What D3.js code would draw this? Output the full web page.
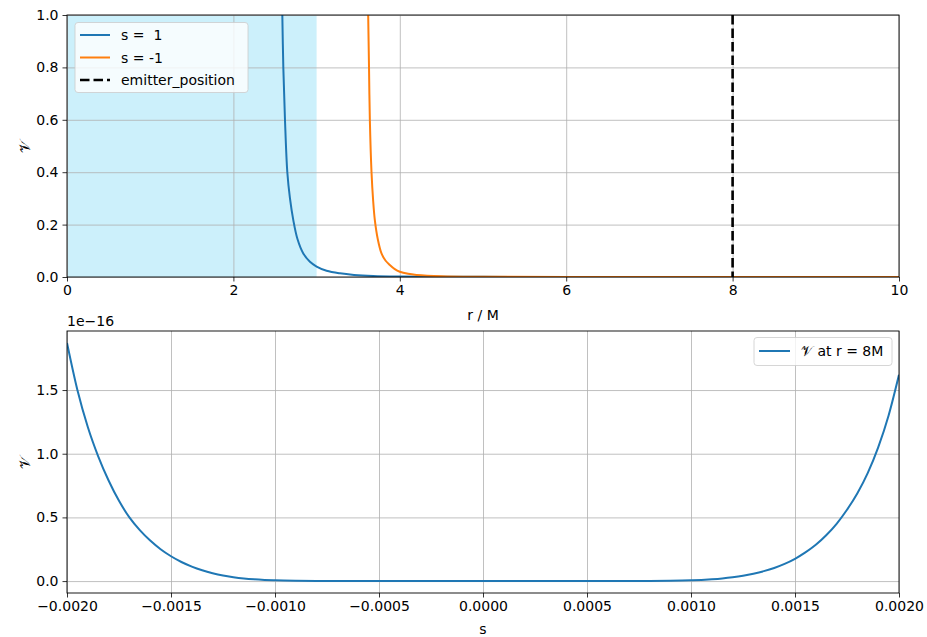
<!DOCTYPE html>
<html>
<head>
<meta charset="utf-8">
<script src="https://cdn.jsdelivr.net/npm/d3@7"></script>
<style>
  html, body { margin: 0; padding: 0; background: #fff; }
  svg { display: block; font-family: "DejaVu Sans", sans-serif; }
  text { white-space: pre; }
</style>
</head>
<body>
<svg id="fig" width="927" height="637"></svg>
<script>
// ---- top panel: potential vs radius for both signs of s ----
const rTicks = [0, 2, 4, 6, 8, 10];
const vTicks = [0.0, 0.2, 0.4, 0.6, 0.8, 1.0];
const rPlus  = [2.575, 2.588, 2.60, 2.62, 2.648, 2.68, 2.72, 2.77, 2.84, 2.92, 3.0, 3.12, 3.28, 3.45, 3.68, 4.0, 4.5, 5.0, 6.0, 8.0, 10.0];
const vPlus  = [1.2, 1.0, 0.80, 0.60, 0.40, 0.30, 0.217, 0.145, 0.09, 0.058, 0.04, 0.024, 0.014, 0.008, 0.004, 0.002, 0.001, 0.0005, 0.0002, 0.00005, 0.00002];
const rMinus = [3.61, 3.62, 3.63, 3.64, 3.66, 3.68, 3.70, 3.735, 3.78, 3.83, 3.88, 3.94, 4.0, 4.1, 4.2, 4.5, 5.0, 6.0, 8.0, 10.0];
const vMinus = [1.2, 1.0, 0.80, 0.60, 0.40, 0.29, 0.217, 0.145, 0.09, 0.062, 0.046, 0.03, 0.02, 0.012, 0.008, 0.003, 0.001, 0.0003, 0.0001, 0.00003];
const emitterR = 8;
const shadedR = [0, 3];
const topLegend = ["s =  1", "s = -1", "emitter_position"];

// ---- bottom panel: potential at r = 8M vs s ----
const sTicks = [-0.002, -0.0015, -0.001, -0.0005, 0.0, 0.0005, 0.001, 0.0015, 0.002];
const sTickLabels = ["\u22120.0020", "\u22120.0015", "\u22120.0010", "\u22120.0005", "0.0000", "0.0005", "0.0010", "0.0015", "0.0020"];
const v8Ticks = [0.0, 0.5, 1.0, 1.5];
const sVals = [-0.002, -0.00195, -0.0019, -0.00185, -0.0018, -0.00175, -0.0017, -0.00165, -0.0016, -0.00155,
               -0.0015, -0.00145, -0.0014, -0.00135, -0.0013, -0.00125, -0.0012, -0.00115, -0.0011, -0.00105,
               -0.001, -0.0009, -0.0008, -0.0007, -0.0006, -0.0005, -0.0003, 0.0, 0.0003, 0.0005,
               0.0006, 0.0007, 0.0008, 0.0009, 0.001, 0.00105, 0.0011, 0.00115, 0.0012, 0.00125,
               0.0013, 0.00135, 0.0014, 0.00145, 0.0015, 0.00155, 0.0016, 0.00165, 0.0017, 0.00175,
               0.0018, 0.00185, 0.0019, 0.00195, 0.002];
const v8Vals = [1.87, 1.50, 1.21, 0.98, 0.79, 0.63, 0.50, 0.40, 0.318, 0.25,
                0.195, 0.15, 0.114, 0.085, 0.062, 0.044, 0.031, 0.021, 0.014, 0.0092,
                0.0058, 0.0022, 0.0007, 0.0002, 0.00005, 0.00001, 0.0, 0.0, 0.0, 0.00001,
                0.00005, 0.0002, 0.0008, 0.0023, 0.006, 0.0095, 0.0145, 0.021, 0.030, 0.042,
                0.058, 0.078, 0.103, 0.135, 0.175, 0.225, 0.285, 0.36, 0.45, 0.56,
                0.69, 0.85, 1.05, 1.30, 1.62];
const offsetLabel = "1e\u221216";
const bottomLegend = "\uD835\uDCB1 at r = 8M";
const yName = "\uD835\uDCB1";

const C_BLUE = "#1f77b4", C_ORANGE = "#ff7f0e";
const FS = 14;
const svg = d3.select("#fig");

function styleAxis(a) {
  a.select(".domain").remove();
  a.selectAll("text").attr("font-size", FS).attr("font-family", "DejaVu Sans").attr("fill", "#000");
  a.selectAll("line").attr("stroke", "#000").attr("stroke-width", 0.8);
}
function gridlines(g, xScale, xVals, yScale, yVals, box) {
  g.append("g").attr("transform", `translate(0,${box.bottom})`)
    .call(d3.axisBottom(xScale).tickValues(xVals).tickSize(-(box.bottom - box.top)).tickFormat(""))
    .call(s => s.select(".domain").remove())
    .call(s => s.selectAll("line").attr("stroke", "#b0b0b0").attr("stroke-width", 0.8));
  g.append("g").attr("transform", `translate(${box.left},0)`)
    .call(d3.axisLeft(yScale).tickValues(yVals).tickSize(-(box.right - box.left)).tickFormat(""))
    .call(s => s.select(".domain").remove())
    .call(s => s.selectAll("line").attr("stroke", "#b0b0b0").attr("stroke-width", 0.8));
}

// ===== top axes =====
const T = {left: 67, right: 899, top: 15, bottom: 277};
const xr = d3.scaleLinear().domain([0, 10]).range([T.left, T.right]);
const yr = d3.scaleLinear().domain([0, 1]).range([T.bottom, T.top]);

svg.append("clipPath").attr("id", "clipTop").append("rect")
  .attr("x", T.left).attr("y", T.top).attr("width", T.right - T.left).attr("height", T.bottom - T.top);

const gt = svg.append("g");
gt.append("rect").attr("x", xr(shadedR[0])).attr("y", T.top)
  .attr("width", xr(shadedR[1]) - xr(shadedR[0])).attr("height", T.bottom - T.top)
  .attr("fill", "#ccf0fb");
gridlines(gt, xr, rTicks, yr, vTicks, T);

const lineTop = d3.line().curve(d3.curveCatmullRom.alpha(0.5)).x(d => xr(d[0])).y(d => yr(d[1]));
const ct = gt.append("g").attr("clip-path", "url(#clipTop)");
ct.append("path").datum(d3.zip(rPlus, vPlus)).attr("d", lineTop)
  .attr("fill", "none").attr("stroke", C_BLUE).attr("stroke-width", 2);
ct.append("path").datum(d3.zip(rMinus, vMinus)).attr("d", lineTop)
  .attr("fill", "none").attr("stroke", C_ORANGE).attr("stroke-width", 2);
ct.append("line").attr("x1", xr(emitterR)).attr("x2", xr(emitterR))
  .attr("y1", T.top).attr("y2", T.bottom)
  .attr("stroke", "#000").attr("stroke-width", 2.6).attr("stroke-dasharray", "9.5,4");

styleAxis(gt.append("g").attr("transform", `translate(0,${T.bottom})`)
  .call(d3.axisBottom(xr).tickValues(rTicks).tickSize(4.5).tickPadding(4).tickFormat(d3.format("d"))));
styleAxis(gt.append("g").attr("transform", `translate(${T.left},0)`)
  .call(d3.axisLeft(yr).tickValues(vTicks).tickSize(4.5).tickPadding(4).tickFormat(d3.format(".1f"))));
gt.append("rect").attr("x", T.left).attr("y", T.top).attr("width", T.right - T.left).attr("height", T.bottom - T.top)
  .attr("fill", "none").attr("stroke", "#000").attr("stroke-width", 0.9);

gt.append("text").attr("x", (T.left + T.right) / 2).attr("y", 320).attr("text-anchor", "middle")
  .attr("font-size", FS).text("r / M");
gt.append("text").attr("transform", `translate(30,${(T.top + T.bottom) / 2}) rotate(-90)`)
  .attr("text-anchor", "middle").attr("font-size", FS + 1)
  .attr("font-family", "DejaVu Serif, serif").text(yName);

// top legend
const lg = gt.append("g");
lg.append("rect").attr("x", 75).attr("y", 22.5).attr("width", 173).attr("height", 70).attr("rx", 3)
  .attr("fill", "rgba(255,255,255,0.8)").attr("stroke", "#cccccc").attr("stroke-width", 0.8);
const legStyles = [
  {c: C_BLUE, w: 2, dash: null},
  {c: C_ORANGE, w: 2, dash: null},
  {c: "#000", w: 2.6, dash: "9.5,4"}
];
topLegend.forEach((t, i) => {
  const y = 35 + i * 22.5;
  lg.append("line").attr("x1", 80).attr("x2", 110).attr("y1", y).attr("y2", y)
    .attr("stroke", legStyles[i].c).attr("stroke-width", legStyles[i].w)
    .attr("stroke-dasharray", legStyles[i].dash);
  lg.append("text").attr("x", 121).attr("y", y + 5).attr("font-size", FS).text(t);
});

// ===== bottom axes =====
const B = {left: 67, right: 899, top: 331, bottom: 593};
const xs = d3.scaleLinear().domain([-0.002, 0.002]).range([B.left, B.right]);
const ymax = d3.max(v8Vals), ymin = d3.min(v8Vals), pad = 0.05 * (ymax - ymin);
const ys = d3.scaleLinear().domain([ymin - pad, ymax + pad]).range([B.bottom, B.top]);

svg.append("clipPath").attr("id", "clipBot").append("rect")
  .attr("x", B.left).attr("y", B.top).attr("width", B.right - B.left).attr("height", B.bottom - B.top);

const gb = svg.append("g");
gridlines(gb, xs, sTicks, ys, v8Ticks, B);

const lineBot = d3.line().curve(d3.curveMonotoneX).x(d => xs(d[0])).y(d => ys(d[1]));
gb.append("g").attr("clip-path", "url(#clipBot)")
  .append("path").datum(d3.zip(sVals, v8Vals)).attr("d", lineBot)
  .attr("fill", "none").attr("stroke", C_BLUE).attr("stroke-width", 2);

styleAxis(gb.append("g").attr("transform", `translate(0,${B.bottom})`)
  .call(d3.axisBottom(xs).tickValues(sTicks).tickSize(4.5).tickPadding(4).tickFormat((d, i) => sTickLabels[i])));
styleAxis(gb.append("g").attr("transform", `translate(${B.left},0)`)
  .call(d3.axisLeft(ys).tickValues(v8Ticks).tickSize(4.5).tickPadding(4).tickFormat(d3.format(".1f"))));
gb.append("rect").attr("x", B.left).attr("y", B.top).attr("width", B.right - B.left).attr("height", B.bottom - B.top)
  .attr("fill", "none").attr("stroke", "#000").attr("stroke-width", 0.9);

gb.append("text").attr("x", B.left).attr("y", 326).attr("font-size", FS).text(offsetLabel);
gb.append("text").attr("x", (B.left + B.right) / 2).attr("y", 634).attr("text-anchor", "middle")
  .attr("font-size", FS).text("s");
gb.append("text").attr("transform", `translate(30,${(B.top + B.bottom) / 2}) rotate(-90)`)
  .attr("text-anchor", "middle").attr("font-size", FS + 1)
  .attr("font-family", "DejaVu Serif, serif").text(yName);

// bottom legend
const lb = gb.append("g");
lb.append("rect").attr("x", 754).attr("y", 337.5).attr("width", 138).attr("height", 28).attr("rx", 3)
  .attr("fill", "rgba(255,255,255,0.8)").attr("stroke", "#cccccc").attr("stroke-width", 0.8);
lb.append("line").attr("x1", 759).attr("x2", 790).attr("y1", 351).attr("y2", 351)
  .attr("stroke", C_BLUE).attr("stroke-width", 2);
lb.append("text").attr("x", 801).attr("y", 356).attr("font-size", FS).text(bottomLegend);
</script>
</body>
</html>
